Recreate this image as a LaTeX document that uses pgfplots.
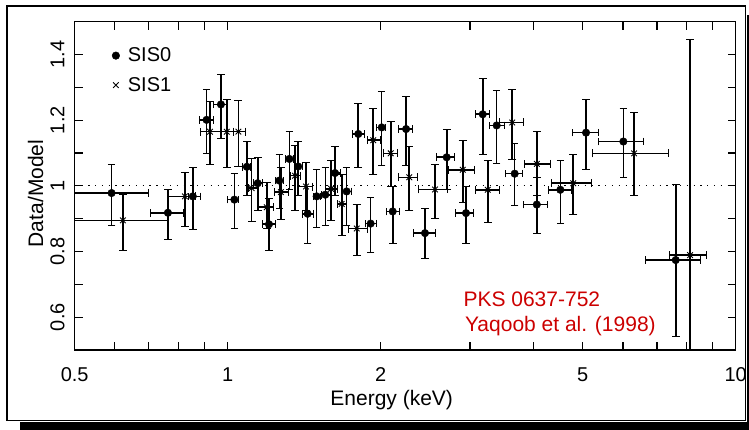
\documentclass[border=0pt]{standalone}
\usepackage{pgfplots}
\pgfplotsset{compat=1.18}
\usepackage{pgfplotstable}
\usepackage{fontspec}
\setmainfont{Liberation Sans}
\definecolor{redtxt}{RGB}{204,0,0}

\pgfplotstableread{
E v Elo Ehi vlo vhi
0.591 0.978 0.500 0.697 0.879 1.067
0.763 0.918 0.703 0.817 0.837 0.991
0.854 0.968 0.836 0.882 0.868 1.056
0.909 1.201 0.878 0.936 1.098 1.295
0.970 1.248 0.936 0.997 1.146 1.340
1.031 0.958 0.996 1.050 0.870 1.038
1.091 1.058 1.066 1.107 0.970 1.137
1.146 1.008 1.122 1.169 0.925 1.087
1.206 0.883 1.169 1.240 0.804 0.961
1.264 1.016 1.240 1.285 0.931 1.095
1.323 1.082 1.297 1.345 0.990 1.165
1.377 1.059 1.357 1.399 0.970 1.137
1.437 0.915 1.401 1.472 0.824 0.998
1.497 0.968 1.472 1.520 0.875 1.052
1.557 0.973 1.527 1.590 0.880 1.056
1.627 1.039 1.590 1.664 0.970 1.120
1.715 0.983 1.677 1.747 0.880 1.056
1.808 1.158 1.757 1.856 1.056 1.253
1.912 0.885 1.864 1.965 0.799 0.965
2.010 1.178 1.965 2.041 1.062 1.289
2.113 0.922 2.050 2.174 0.824 1.000
2.245 1.173 2.168 2.303 1.062 1.272
2.446 0.856 2.320 2.560 0.779 0.933
2.699 1.087 2.572 2.790 0.990 1.173
2.946 0.917 2.800 3.045 0.824 1.000
3.178 1.218 3.069 3.270 1.095 1.329
3.385 1.184 3.270 3.500 1.070 1.291
3.673 1.037 3.515 3.809 0.940 1.129
4.060 0.943 3.820 4.247 0.855 1.026
4.517 0.988 4.278 4.735 0.887 1.079
5.075 1.162 4.756 5.366 1.052 1.263
6.010 1.135 5.366 6.582 1.026 1.238
7.620 0.774 6.633 8.510 0.541 1.006
}\sisz

\pgfplotstableread{
E v Elo Ehi vlo vhi
0.622 0.895 0.500 0.763 0.804 0.976
0.824 0.968 0.763 0.862 0.877 1.041
0.923 1.165 0.882 0.966 1.067 1.258
0.996 1.165 0.966 1.025 1.058 1.263
1.050 1.165 1.025 1.082 1.060 1.260
1.115 0.993 1.097 1.142 0.893 1.083
1.194 0.935 1.149 1.230 0.870 1.011
1.273 0.981 1.234 1.315 0.898 1.056
1.357 1.031 1.327 1.389 0.925 1.125
1.426 0.998 1.376 1.464 0.925 1.071
1.598 0.991 1.555 1.640 0.895 1.077
1.677 0.945 1.640 1.715 0.849 1.036
1.795 0.870 1.728 1.879 0.789 0.945
1.935 1.139 1.879 1.995 1.036 1.238
2.094 1.099 2.025 2.158 1.000 1.198
2.278 1.026 2.168 2.356 0.925 1.122
2.560 0.989 2.374 2.699 0.900 1.067
2.902 1.049 2.718 3.055 0.950 1.139
3.251 0.988 3.069 3.425 0.890 1.077
3.633 1.193 3.425 3.820 1.082 1.294
4.060 1.067 3.830 4.311 0.970 1.165
4.790 1.008 4.325 5.205 0.915 1.097
6.310 1.099 5.220 7.370 0.971 1.223
8.130 0.789 7.400 8.730 0.480 1.448
}\sison

\begin{document}
\begin{tikzpicture}[x=1pt,y=1pt]
\useasboundingbox (0,0) rectangle (749,430);
\fill[black] (20,0) rectangle (760,7.8);
\fill[black] (747.3,0) rectangle (760,415);
\draw[line width=1.5pt] (7,9.5) rectangle (745.7,424);
\begin{axis}[
  at={(74.7pt,80pt)}, anchor=south west,
  scale only axis, width=661pt, height=328.3pt,
  xmode=log, xmin=0.5, xmax=10, ymin=0.5, ymax=1.5,
  axis line style={line width=1.2pt},
  every tick/.style={black, line width=1.1pt},
  major tick length=8pt, minor tick length=8pt,
  tick align=inside,
  xtick={0.5,1,2,5,10}, xticklabels={0.5,1,2,5,10},
  minor xtick={0.6,0.7,0.8,0.9,3,4,6,7,8,9},
  ytick={0.6,0.8,1,1.2,1.4}, yticklabels={0.6,0.8,1,1.2,1.4},
  minor ytick={0.7,0.9,1.1,1.3},
  /pgf/number format/assume math mode=true,
  tick label style={font=\fontsize{20}{22}\selectfont},
  xticklabel style={yshift=-14pt},
  yticklabel style={rotate=90, anchor=south, inner ysep=10pt},
  legend style={at={(0,1)}, anchor=north west, xshift=33pt, yshift=-22pt,
    draw=none, fill=none, font=\fontsize{20}{22}\selectfont, row sep=10pt},
  legend cell align=left,
  legend image code/.code={\path[draw=none,fill=none] (0pt,0pt) -- (15pt,0pt);\draw[mark repeat=2,mark phase=2,#1] plot coordinates {(0pt,0pt)(5pt,0pt)(12pt,0pt)};},
  error bars/error bar style={line width=1.6pt, black},
]
\addplot[forget plot, black, line width=1.2pt, dash pattern=on 1.3pt off 5.5pt] coordinates {(0.5,1) (10,1)};
\addplot[only marks, mark=*, mark size=3.8pt, black,
  error bars/.cd, x dir=both, y dir=both, x explicit, y explicit]
  table[x=E, y=v,
    x error plus expr=\thisrow{Ehi}-\thisrow{E}, x error minus expr=\thisrow{E}-\thisrow{Elo},
    y error plus expr=\thisrow{vhi}-\thisrow{v}, y error minus expr=\thisrow{v}-\thisrow{vlo}] {\sisz};
\addlegendentry{SIS0}
\addplot[only marks, mark=x, mark size=4pt, black, mark options={line width=0.9pt},
  error bars/.cd, x dir=both, y dir=both, x explicit, y explicit]
  table[x=E, y=v,
    x error plus expr=\thisrow{Ehi}-\thisrow{E}, x error minus expr=\thisrow{E}-\thisrow{Elo},
    y error plus expr=\thisrow{vhi}-\thisrow{v}, y error minus expr=\thisrow{v}-\thisrow{vlo}] {\sison};
\addlegendentry{SIS1}
\end{axis}
\node[anchor=base, font=\fontsize{21}{24}\selectfont] at (391.7,24) {Energy (keV)};
\node[anchor=base, rotate=90, font=\fontsize{21}{24}\selectfont] at (43,236.5) {Data/Model};
\node[anchor=base west, text=redtxt, font=\fontsize{21}{24}\selectfont] at (460,123.3) {PKS 0637-752};
\node[anchor=base west, text=redtxt, font=\fontsize{21}{24}\selectfont] at (461.5,98.3) {Yaqoob et al. (1998)};
\end{tikzpicture}
\end{document}
